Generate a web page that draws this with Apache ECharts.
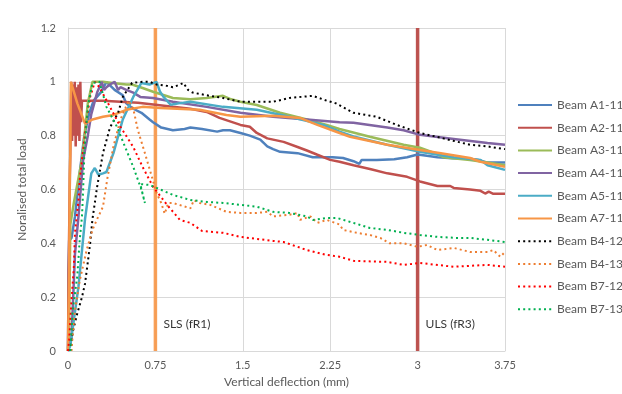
<!DOCTYPE html>
<html>
<head>
<meta charset="utf-8">
<script src="https://cdn.jsdelivr.net/npm/echarts@6/dist/echarts.min.js"></script>
<style>
  html, body { margin: 0; padding: 0; background: #fff; }
  #chart { width: 622px; height: 394px; }
</style>
</head>
<body>
<div id="chart"></div>
<script>
// Normalised load vs. vertical deflection, one [deflection (mm), load] list per beam
const beamA1_11 = [[0,0],[0.005,0.3],[0.01,0.41],[0.03,0.42],[0.06,0.5],[0.1,0.66],[0.14,0.8],[0.18,0.88],[0.22,0.93],[0.28,0.96],[0.33,1.0],[0.4,0.97],[0.47,0.95],[0.5,0.92],[0.56,0.9],[0.63,0.885],[0.7,0.86],[0.73,0.85],[0.8,0.83],[0.9,0.82],[1.0,0.825],[1.05,0.83],[1.15,0.825],[1.28,0.815],[1.33,0.82],[1.39,0.82],[1.48,0.81],[1.56,0.8],[1.65,0.785],[1.71,0.76],[1.76,0.75],[1.82,0.74],[1.97,0.735],[2.1,0.72],[2.27,0.72],[2.36,0.717],[2.45,0.705],[2.5,0.695],[2.52,0.71],[2.65,0.71],[2.8,0.712],[2.91,0.72],[3.0,0.73],[3.08,0.725],[3.17,0.72],[3.3,0.716],[3.45,0.714],[3.52,0.71],[3.6,0.70],[3.75,0.70]];
const beamA2_11 = [[0,0],[0.005,0.3],[0.02,0.75],[0.028,1.0],[0.035,0.78],[0.042,0.99],[0.05,0.8],[0.058,1.0],[0.066,0.76],[0.074,0.98],[0.082,0.8],[0.09,0.99],[0.098,0.78],[0.106,1.0],[0.112,0.85],[0.12,0.93],[0.3,0.93],[0.6,0.922],[0.9,0.907],[1.05,0.9],[1.19,0.888],[1.3,0.866],[1.48,0.84],[1.56,0.833],[1.62,0.81],[1.71,0.79],[1.85,0.777],[1.97,0.758],[2.05,0.745],[2.14,0.729],[2.25,0.71],[2.33,0.703],[2.45,0.69],[2.6,0.675],[2.74,0.66],[2.91,0.647],[3.02,0.63],[3.17,0.613],[3.28,0.613],[3.31,0.606],[3.45,0.6],[3.54,0.595],[3.58,0.585],[3.61,0.592],[3.65,0.584],[3.75,0.584]];
const beamA3_11 = [[0,0],[0.01,0.1],[0.02,0.47],[0.05,0.55],[0.08,0.62],[0.12,0.71],[0.146,0.82],[0.17,0.92],[0.21,1.0],[0.3,1.0],[0.4,0.995],[0.5,0.99],[0.55,0.99],[0.64,0.977],[0.73,0.963],[0.9,0.94],[1.05,0.935],[1.19,0.94],[1.33,0.948],[1.4,0.935],[1.48,0.926],[1.62,0.914],[1.82,0.885],[2.05,0.86],[2.22,0.84],[2.33,0.825],[2.59,0.796],[2.88,0.766],[3.02,0.755],[3.15,0.735],[3.22,0.72],[3.45,0.71],[3.6,0.70],[3.75,0.69]];
const beamA4_11 = [[0,0],[0.03,0.05],[0.06,0.36],[0.09,0.5],[0.13,0.71],[0.17,0.8],[0.2,0.88],[0.25,0.96],[0.29,1.0],[0.31,0.97],[0.33,0.98],[0.36,0.99],[0.4,1.0],[0.43,0.97],[0.45,0.98],[0.5,0.97],[0.56,0.96],[0.62,0.944],[0.73,0.94],[0.9,0.926],[1.19,0.907],[1.48,0.885],[1.76,0.87],[2.05,0.86],[2.33,0.85],[2.45,0.848],[2.74,0.83],[2.88,0.82],[3.02,0.803],[3.31,0.788],[3.6,0.773],[3.75,0.766]];
const beamA5_11 = [[0,0],[0.02,0.02],[0.09,0.24],[0.146,0.49],[0.2,0.66],[0.23,0.68],[0.26,0.655],[0.3,0.66],[0.33,0.665],[0.39,0.735],[0.47,0.86],[0.56,0.944],[0.63,0.996],[0.7,0.99],[0.76,1.0],[0.79,0.963],[0.82,0.944],[0.88,0.915],[0.95,0.92],[1.05,0.926],[1.33,0.907],[1.62,0.896],[1.9,0.87],[2.19,0.84],[2.33,0.815],[2.45,0.797],[2.74,0.766],[3.02,0.74],[3.31,0.72],[3.54,0.71],[3.6,0.69],[3.75,0.673]];
const beamA7_11 = [[0,0],[0.01,0.3],[0.015,0.65],[0.02,0.73],[0.025,1.0],[0.03,1.0],[0.08,0.92],[0.146,0.845],[0.21,0.86],[0.3,0.87],[0.39,0.877],[0.5,0.896],[0.64,0.907],[0.79,0.903],[1.13,0.896],[1.36,0.877],[1.48,0.87],[1.76,0.874],[1.99,0.866],[2.14,0.84],[2.33,0.81],[2.42,0.796],[2.74,0.766],[3.02,0.747],[3.2,0.735],[3.45,0.717],[3.54,0.703],[3.75,0.684]];
const beamB4_12 = [[0.02,0],[0.04,0.07],[0.08,0.14],[0.12,0.2],[0.146,0.25],[0.17,0.33],[0.19,0.4],[0.21,0.49],[0.25,0.61],[0.3,0.735],[0.36,0.83],[0.43,0.885],[0.47,0.944],[0.55,0.996],[0.64,1.0],[0.7,1.0],[0.76,0.99],[0.85,0.985],[0.9,0.98],[0.96,0.99],[0.99,0.996],[1.03,0.97],[1.07,0.96],[1.19,0.95],[1.33,0.94],[1.48,0.926],[1.76,0.926],[1.9,0.94],[2.1,0.948],[2.22,0.93],[2.3,0.92],[2.45,0.885],[2.65,0.87],[2.82,0.84],[3.02,0.81],[3.22,0.79],[3.45,0.766],[3.6,0.76],[3.75,0.75]];
const beamB4_13 = [[0.03,0],[0.04,0.06],[0.06,0.15],[0.1,0.26],[0.16,0.375],[0.21,0.45],[0.25,0.49],[0.3,0.536],[0.34,0.647],[0.39,0.76],[0.45,0.86],[0.52,0.93],[0.56,0.9],[0.6,0.82],[0.66,0.735],[0.72,0.647],[0.76,0.587],[0.8,0.55],[0.83,0.51],[0.86,0.55],[0.9,0.55],[1.05,0.53],[1.08,0.56],[1.13,0.55],[1.22,0.543],[1.36,0.517],[1.48,0.513],[1.62,0.513],[1.71,0.517],[1.76,0.5],[1.9,0.506],[1.97,0.513],[1.99,0.487],[2.08,0.5],[2.14,0.476],[2.22,0.487],[2.33,0.47],[2.36,0.45],[2.48,0.439],[2.59,0.431],[2.68,0.42],[2.76,0.40],[2.88,0.40],[3.0,0.387],[3.08,0.394],[3.17,0.375],[3.31,0.383],[3.45,0.368],[3.6,0.368],[3.65,0.375],[3.71,0.35],[3.75,0.368]];
const beamB7_12 = [[0,0],[0.01,0.04],[0.03,0.19],[0.05,0.31],[0.06,0.44],[0.09,0.56],[0.1,0.635],[0.16,0.86],[0.19,0.944],[0.23,1.0],[0.27,0.98],[0.36,0.907],[0.45,0.833],[0.56,0.758],[0.64,0.684],[0.73,0.61],[0.82,0.56],[0.85,0.543],[0.96,0.487],[1.05,0.476],[1.15,0.446],[1.33,0.439],[1.48,0.424],[1.76,0.409],[1.85,0.405],[2.05,0.375],[2.22,0.357],[2.33,0.35],[2.45,0.335],[2.74,0.331],[2.88,0.32],[3.02,0.327],[3.31,0.313],[3.6,0.32],[3.75,0.313]];
const beamB7_13 = [[0.02,0],[0.04,0.15],[0.08,0.28],[0.1,0.41],[0.12,0.5],[0.13,0.6],[0.14,0.735],[0.17,0.907],[0.21,0.996],[0.27,1.0],[0.33,0.907],[0.42,0.833],[0.49,0.758],[0.56,0.684],[0.6,0.636],[0.63,0.6],[0.66,0.55],[0.62,0.62],[0.7,0.617],[0.76,0.606],[0.9,0.58],[1.05,0.561],[1.19,0.554],[1.33,0.55],[1.48,0.543],[1.62,0.536],[1.76,0.517],[1.9,0.513],[2.05,0.5],[2.1,0.487],[2.22,0.494],[2.31,0.494],[2.45,0.476],[2.59,0.457],[2.74,0.45],[2.88,0.439],[3.02,0.431],[3.17,0.424],[3.34,0.42],[3.45,0.42],[3.6,0.413],[3.75,0.405]];

// Limit-state reference deflections
const slsDeflection = 0.75;
const ulsDeflection = 3;
const slsLabel = 'SLS (fR1)';
const ulsLabel = 'ULS (fR3)';

const xTicks = { min: 0, max: 3.75, interval: 0.75 };
const yTicks = { min: 0, max: 1.2, interval: 0.2 };

const solidBeams = [
  ['Beam A1-11', beamA1_11, '#4F81BD'],
  ['Beam A2-11', beamA2_11, '#C0504D'],
  ['Beam A3-11', beamA3_11, '#9BBB59'],
  ['Beam A4-11', beamA4_11, '#8064A2'],
  ['Beam A5-11', beamA5_11, '#4BACC6'],
  ['Beam A7-11', beamA7_11, '#F79646']
];
const dottedBeams = [
  ['Beam B4-12', beamB4_12, '#000000'],
  ['Beam B4-13', beamB4_13, '#ED7D31'],
  ['Beam B7-12', beamB7_12, '#FF0000'],
  ['Beam B7-13', beamB7_13, '#00B050']
];

const font = 'Lato, "Open Sans", sans-serif';
const textColor = '#595959';

const series = [];

// Limit-state lines drawn first so the beam curves sit on top
function limitLine(x, color, label) {
  series.push({
    type: 'line', silent: true, symbol: 'none', z: 1,
    data: [[x, yTicks.min], [x, yTicks.max]],
    lineStyle: { color: color, width: 3.5 },
    legendHoverLink: false
  });
  series.push({
    type: 'scatter', silent: true, symbolSize: 0, z: 5,
    data: [[x, 0.1]],
    label: { show: true, position: 'right', distance: 8, formatter: label,
      color: '#000', fontSize: 12, fontFamily: font }
  });
}
limitLine(slsDeflection, 'rgba(247,150,70,0.9)', slsLabel);
limitLine(ulsDeflection, 'rgba(185,75,72,0.95)', ulsLabel);

solidBeams.forEach(([name, data, color]) => {
  series.push({
    name, type: 'line', data, symbol: 'none', showSymbol: false, z: 3,
    lineStyle: { color, width: 2.5 }, itemStyle: { color }
  });
});
dottedBeams.forEach(([name, data, color]) => {
  series.push({
    name, type: 'line', data, symbol: 'none', showSymbol: false, z: 4,
    lineStyle: { color, width: 2, type: [2, 3.2] }, itemStyle: { color }
  });
});

const chart = echarts.init(document.getElementById('chart'), null, { renderer: 'canvas' });
chart.setOption({
  animation: false,
  backgroundColor: '#fff',
  grid: { left: 68, right: 117, top: 28, bottom: 43, containLabel: false },
  legend: {
    orient: 'vertical', left: 512, top: 94, width: 110,
    itemWidth: 34, itemHeight: 12, itemGap: 10.7, itemTextGap: 5,
    itemStyle: { opacity: 0 },
    data: solidBeams.concat(dottedBeams).map(b => b[0]),
    textStyle: { color: textColor, fontSize: 12, fontFamily: font, overflow: 'none' }
  },
  xAxis: {
    type: 'value', min: xTicks.min, max: xTicks.max, interval: xTicks.interval,
    name: 'Vertical deflection (mm)', nameLocation: 'middle', nameGap: 25,
    nameTextStyle: { color: textColor, fontSize: 12, fontFamily: font },
    axisLine: { show: true, lineStyle: { color: '#D9D9D9' } },
    axisTick: { show: false },
    axisLabel: { color: textColor, fontSize: 11, fontFamily: font, margin: 9 },
    splitLine: { show: true, lineStyle: { color: '#D9D9D9' } }
  },
  yAxis: {
    type: 'value', min: yTicks.min, max: yTicks.max, interval: yTicks.interval,
    name: 'Noralised total load', nameLocation: 'middle', nameGap: 40, nameRotate: 90,
    nameTextStyle: { color: textColor, fontSize: 12, fontFamily: font },
    axisLine: { show: true, lineStyle: { color: '#D9D9D9' } },
    axisTick: { show: false },
    axisLabel: { color: textColor, fontSize: 11, fontFamily: font, margin: 12 },
    splitLine: { show: true, lineStyle: { color: '#D9D9D9' } }
  },
  series
});
</script>
</body>
</html>
